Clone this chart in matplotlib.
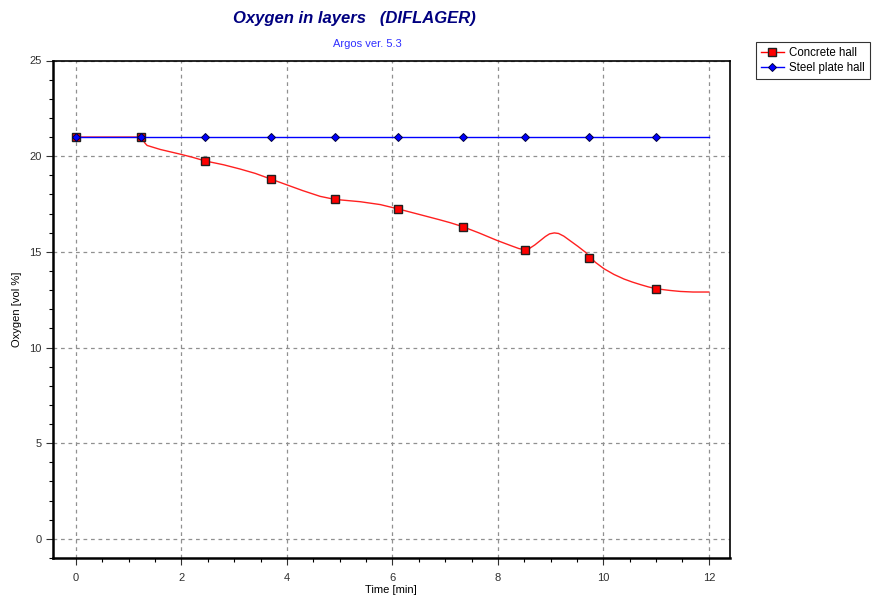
import numpy as np
import matplotlib
matplotlib.use("Agg")
import matplotlib.pyplot as plt
from matplotlib.ticker import MultipleLocator
from matplotlib.lines import Line2D

plt.rcParams["font.family"] = ["Liberation Sans", "DejaVu Sans"]

# marker positions (time [min], oxygen [vol %])
time_pts = [0.0, 1.23, 2.45, 3.69, 4.91, 6.10, 7.33, 8.51, 9.72, 10.99]
concrete_pts = [21.0, 21.0, 19.75, 18.81, 17.74, 17.25, 16.32, 15.11, 14.70, 13.08]
steel_pts = [21.0] * len(time_pts)

# curve
concrete_t = [0.0, 1.23, 1.27, 1.31, 1.35, 1.60, 1.97, 2.20, 2.45, 2.80, 3.11, 3.40, 3.69,
              4.05, 4.30, 4.63, 4.91, 5.15, 5.39, 5.77, 6.10, 6.53, 6.89, 7.10,
              7.33, 7.65, 7.98, 8.25, 8.40, 8.51, 8.60, 8.70, 8.80, 8.90, 8.98, 9.07,
              9.15, 9.25, 9.37, 9.52, 9.66, 9.72, 9.85, 10.01, 10.20, 10.39, 10.55,
              10.70, 10.85, 10.99, 11.15, 11.27, 11.46, 11.70, 12.0]
concrete_y = [21.0, 21.0, 20.85, 20.68, 20.56, 20.35, 20.11, 19.95, 19.75, 19.55, 19.33,
              19.10, 18.81, 18.45, 18.20, 17.90, 17.74, 17.68, 17.62, 17.47, 17.25,
              16.94, 16.68, 16.52, 16.32, 15.98, 15.60, 15.32, 15.17, 15.11, 15.18,
              15.36, 15.58, 15.80, 15.94, 15.99, 15.96, 15.82, 15.58, 15.28, 14.98,
              14.80, 14.45, 14.12, 13.82, 13.58, 13.42, 13.29, 13.17, 13.08, 13.02,
              12.98, 12.93, 12.90, 12.90]
steel_t = [0.0, 12.0]
steel_y = [21.0, 21.0]

fig = plt.figure(figsize=(8.8, 6.05), dpi=100)
ax = fig.add_axes([0.0599, 0.0777, 0.7696, 0.8223])

ax.plot(concrete_t, concrete_y, color="#ff2020", lw=1.0, zorder=3)
ax.plot(time_pts, concrete_pts, ls="none", marker="s", ms=6.3,
        mfc="#ff0000", mec="#202020", mew=1.0, zorder=4)
ax.plot(steel_t, steel_y, color="#0000ff", lw=1.0, zorder=5)
ax.plot(time_pts, steel_pts, ls="none", marker="D", ms=4.5,
        mfc="#0000ff", mec="#000040", mew=0.7, zorder=6)

ax.set_xlim(-0.44, 12.4)
ax.set_ylim(-1.0, 25.0)
ax.xaxis.set_major_locator(MultipleLocator(2))
ax.xaxis.set_minor_locator(MultipleLocator(0.5))
ax.yaxis.set_major_locator(MultipleLocator(5))
ax.yaxis.set_minor_locator(MultipleLocator(1))
ax.tick_params(which="major", direction="out", length=5, width=0.8,
               labelsize=8, colors="#303030")
ax.tick_params(which="minor", direction="out", length=3, width=0.8)
ax.tick_params(axis="x", which="major", pad=6)
ax.tick_params(axis="y", which="major", pad=3)

ax.grid(True, which="major", ls=(0, (3, 3)), color="#909090", lw=0.9)
ax.set_axisbelow(True)

for s in ["left", "bottom"]:
    ax.spines[s].set_linewidth(1.8)
for s in ["top", "right"]:
    ax.spines[s].set_linewidth(1.2)

ax.set_xlabel("Time [min]", fontsize=8, labelpad=1)
ax.set_ylabel("Oxygen [vol %]", fontsize=8, labelpad=5)

fig.text(0.403, 0.970, "Oxygen in layers   (DIFLAGER)", ha="center", va="center",
         fontsize=12, fontweight="bold", fontstyle="italic", color="#000080")
fig.text(0.418, 0.927, "Argos ver. 5.3", ha="center", va="center",
         fontsize=8, color="#3030ff")

handles = [
    Line2D([], [], color="#ff0000", lw=1.0, marker="s", ms=6,
           mfc="#ff0000", mec="#202020", mew=1.0),
    Line2D([], [], color="#0000ff", lw=1.0, marker="D", ms=4.5,
           mfc="#0000ff", mec="#000040", mew=0.7),
]
leg = fig.legend(handles, ["Concrete hall", "Steel plate hall"],
                 loc="upper left", bbox_to_anchor=(0.859, 0.93),
                 fontsize=8.3, frameon=True, fancybox=False, handlelength=2.0,
                 borderpad=0.4, labelspacing=0.3, handletextpad=0.5,
                 borderaxespad=0)
leg.get_frame().set_edgecolor("#000000")
leg.get_frame().set_linewidth(0.8)

fig.savefig("out.png", dpi=100)
